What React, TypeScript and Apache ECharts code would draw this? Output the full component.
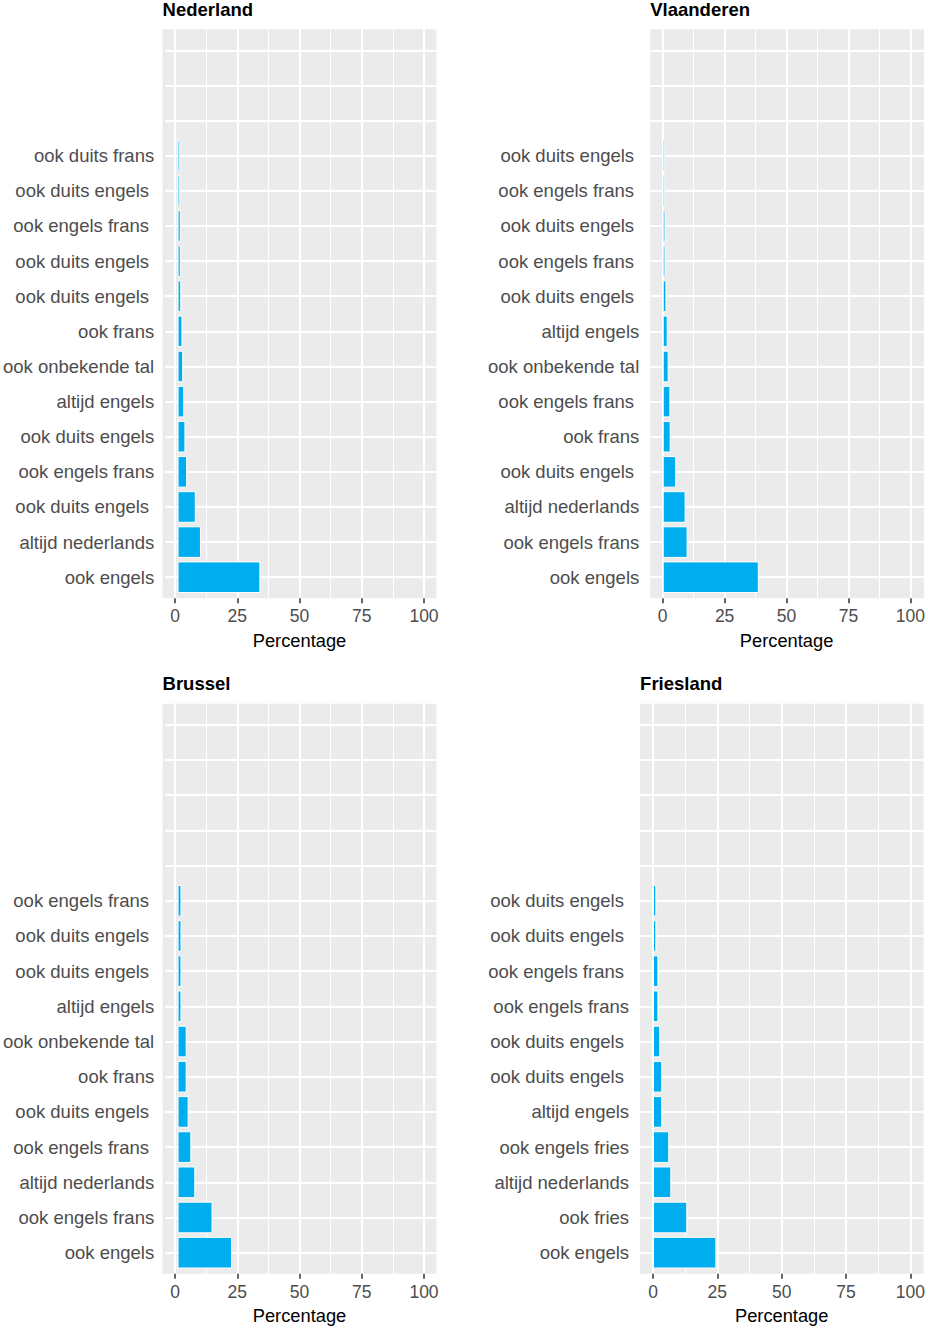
import React, { useEffect, useRef } from "react";
import * as echarts from "echarts";

// Labels and values listed top-to-bottom as they appear in each panel
const regions = ["Nederland", "Vlaanderen", "Brussel", "Friesland"];

const nlLabels = ["ook duits frans", "ook duits engels ", "ook engels frans ", "ook duits engels ", "ook duits engels ", "ook frans", "ook onbekende tal", "altijd engels", "ook duits engels", "ook engels frans", "ook duits engels ", "altijd nederlands", "ook engels"];
const nlValues = [1.1, 1.1, 1.3, 1.3, 1.5, 2.0, 2.3, 2.7, 3.2, 3.9, 7.4, 9.5, 33.6];

const vlLabels = ["ook duits engels ", "ook engels frans ", "ook duits engels ", "ook engels frans ", "ook duits engels ", "altijd engels", "ook onbekende tal", "ook engels frans ", "ook frans", "ook duits engels ", "altijd nederlands", "ook engels frans", "ook engels"];
const vlValues = [1.0, 1.0, 1.1, 1.1, 1.5, 2.0, 2.4, 3.1, 3.2, 5.4, 9.2, 10.0, 38.6];

const brLabels = ["ook engels frans ", "ook duits engels ", "ook duits engels ", "altijd engels", "ook onbekende tal", "ook frans", "ook duits engels ", "ook engels frans ", "altijd nederlands", "ook engels frans", "ook engels"];
const brValues = [1.6, 1.6, 1.6, 1.6, 3.7, 3.7, 4.5, 5.6, 7.2, 14.2, 22.1];

const frLabels = ["ook duits engels ", "ook duits engels ", "ook engels frans ", "ook engels frans", "ook duits engels ", "ook duits engels ", "altijd engels", "ook engels fries", "altijd nederlands", "ook fries", "ook engels"];
const frValues = [1.3, 1.3, 2.1, 2.1, 2.8, 3.6, 3.6, 6.3, 7.1, 13.3, 24.6];

const xTicks = [0, 25, 50, 75, 100];
const slotCount = 16;

const panelData = [
  { labels: nlLabels, values: nlValues },
  { labels: vlLabels, values: vlValues },
  { labels: brLabels, values: brValues },
  { labels: frLabels, values: frValues },
];

// layout (pixels): position of x=0, x=100 and panel top/bottom
const layout = [
  { x0: 175, x100: 424, T: 29.3, B: 598.3 },
  { x0: 662.7, x100: 911.7, T: 29.3, B: 598.3 },
  { x0: 175, x100: 424, T: 703.7, B: 1273.8 },
  { x0: 653, x100: 910.7, T: 703.7, B: 1273.8 },
];

const FONT = "'Liberation Sans', Arial, Helvetica, sans-serif";
const BAR = "#00AEEF";

function buildOption() {
  const grid: any[] = [];
  const xAxis: any[] = [];
  const yAxis: any[] = [];
  const series: any[] = [];
  const title: any[] = [];

  panelData.forEach((pd, i) => {
    const lay = layout[i];
    const span = lay.x100 - lay.x0;
    const L = lay.x0 - 0.05 * span;
    const W = span * 1.1;
    const H = lay.B - lay.T;
    const s = H / (slotCount + 0.2);
    const pad = slotCount - pd.labels.length;
    // bottom-to-top order for ECharts
    const cats = [...pd.labels].reverse().concat(Array(pad).fill(""));
    const vals: (number | null)[] = [...pd.values].reverse().concat(Array(pad).fill(null));

    const g = i * 3;
    // background grid
    grid.push({ left: L, top: lay.T, width: W, height: H, show: true, backgroundColor: "#EBEBEB", borderWidth: 0, containLabel: false });
    xAxis.push({ gridIndex: g, type: "value", show: false, min: 0, max: 1 });
    yAxis.push({ gridIndex: g, type: "value", show: false, min: 0, max: 1 });

    // value grid (x gridlines, ticks, labels)
    grid.push({ left: lay.x0, top: lay.T, width: span, height: H, show: false, containLabel: false });
    xAxis.push({
      gridIndex: g + 1,
      type: "value",
      min: xTicks[0],
      max: xTicks[xTicks.length - 1],
      interval: 25,
      position: "bottom",
      axisLine: { show: false },
      axisTick: { show: true, length: 5, lineStyle: { color: "#333333", width: 1.5 } },
      axisLabel: { color: "#4D4D4D", fontSize: 17.5, margin: 9, fontFamily: FONT },
      splitLine: { show: true, lineStyle: { color: "#FFFFFF", width: 2 } },
      minorTick: { show: false, splitNumber: 2 },
      minorSplitLine: { show: true, lineStyle: { color: "#FFFFFF", width: 1 } },
      name: "Percentage",
      nameLocation: "middle",
      nameGap: 33,
      nameTextStyle: { color: "#000000", fontSize: 18.3, fontFamily: FONT },
    });
    yAxis.push({ gridIndex: g + 1, type: "value", show: false, min: 0, max: 1 });

    // category grid (bars, y labels, horizontal gridlines)
    grid.push({ left: L, top: lay.T + 0.6 * s, width: W, height: (slotCount - 1) * s, show: false, containLabel: false });
    xAxis.push({ gridIndex: g + 2, type: "value", show: false, min: -5, max: 105 });
    yAxis.push({
      gridIndex: g + 2,
      type: "category",
      data: cats,
      boundaryGap: false,
      axisLine: { show: false },
      axisTick: { show: false, interval: 0 },
      axisLabel: { color: "#4D4D4D", fontSize: 18.5, margin: 11, interval: 0, fontFamily: FONT },
      splitLine: { show: true, interval: 0, lineStyle: { color: "#FFFFFF", width: 2 } },
    });

    series.push({
      type: "bar",
      name: regions[i],
      xAxisIndex: g + 2,
      yAxisIndex: g + 2,
      data: vals,
      barWidth: "90%",
      itemStyle: { color: BAR, borderColor: "#FFFFFF", borderWidth: 1 },
    });

    title.push({
      text: regions[i],
      left: L,
      top: lay.T - 29.3,
      padding: 0,
      textStyle: { color: "#000000", fontSize: 18.5, fontWeight: "bold", fontFamily: FONT },
    });
  });

  return {
    animation: false,
    textStyle: { fontFamily: FONT },
    title,
    grid,
    xAxis,
    yAxis,
    series,
  };
}

export default function App() {
  const ref = useRef<HTMLDivElement>(null);
  useEffect(() => {
    if (!ref.current) return;
    const chart = echarts.init(ref.current, null, { renderer: "svg" });
    chart.setOption(buildOption());
    return () => chart.dispose();
  }, []);
  return (
    <div
      ref={ref}
      style={{ position: "absolute", left: 0, top: 0, width: 928, height: 1328, background: "#FFFFFF" }}
    />
  );
}
